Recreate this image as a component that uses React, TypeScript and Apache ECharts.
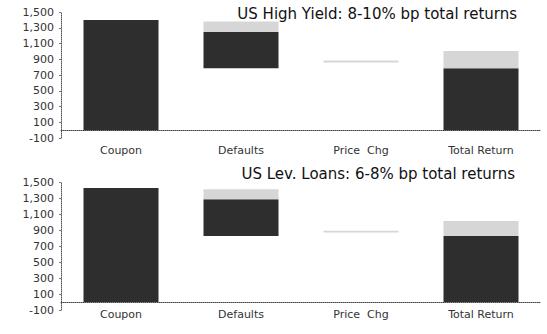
import React, { useEffect, useRef } from "react";
import * as echarts from "echarts";

const categories = ["Coupon", "Defaults", "Price  Chg", "Total Return"];

// US High Yield: start of bar, end of dark part, end of light (range) part
const hyStart = [0, 785, 860, 0];
const hyDarkEnd = [1400, 1245, 860, 785];
const hyLightEnd = [1400, 1380, 885, 1005];

// US Lev. Loans
const lvStart = [0, 825, 868, 0];
const lvDarkEnd = [1425, 1284, 868, 825];
const lvLightEnd = [1425, 1408, 890, 1012];

const titles = ["US High Yield: 8-10% bp total returns", "US Lev. Loans: 6-8% bp total returns"];

const FONT = "DejaVu Sans";

function diff(a: number[], b: number[]) {
  return a.map((v, i) => v - b[i]);
}

export default function App() {
  const ref = useRef<HTMLDivElement>(null);
  useEffect(() => {
    document.body.style.margin = "0";
    const chart = echarts.init(ref.current!, undefined, { renderer: "svg" });
    const grids = [
      { left: 61, right: 6, top: 12, height: 126 },
      { left: 61, right: 6, top: 182, height: 128 },
    ];
    const sets = [
      [hyStart, hyDarkEnd, hyLightEnd],
      [lvStart, lvDarkEnd, lvLightEnd],
    ];
    const labelMargins = [7, -1];
    const series: any[] = [];
    sets.forEach(([s, d, l], gi) => {
      const stack = "w" + gi;
      series.push({
        type: "bar", xAxisIndex: gi, yAxisIndex: gi, stack, barWidth: 75,
        data: s, itemStyle: { color: "transparent" }, silent: true,
      });
      series.push({
        type: "bar", xAxisIndex: gi, yAxisIndex: gi, stack, barWidth: 75,
        data: diff(d, s), itemStyle: { color: "#2e2e2e" },
      });
      series.push({
        type: "bar", xAxisIndex: gi, yAxisIndex: gi, stack, barWidth: 75,
        data: diff(l, d), itemStyle: { color: "#d6d6d6" },
      });
    });
    chart.setOption({
      animation: false,
      title: titles.map((t, i) => ({
        text: t,
        right: i === 0 ? 30 : 32,
        top: i === 0 ? 6 : 166,
        padding: 0,
        textStyle: { fontFamily: FONT, fontSize: 15, fontWeight: "normal", color: "#111" },
      })),
      grid: grids,
      xAxis: grids.map((_, i) => ({
        type: "category",
        gridIndex: i,
        data: categories,
        axisLine: { onZero: true, lineStyle: { type: "dotted", color: "#444", width: 1 } },
        axisTick: { show: false },
        axisLabel: { fontFamily: FONT, fontSize: 11, color: "#333", margin: labelMargins[i], interval: 0 },
      })),
      yAxis: grids.map((_, i) => ({
        type: "value",
        gridIndex: i,
        min: -100,
        max: 1500,
        interval: 200,
        splitLine: { show: false },
        axisLine: { show: true, lineStyle: { type: "dotted", color: "#555", width: 1 } },
        axisTick: { show: true, length: 2, lineStyle: { color: "#777" } },
        axisLabel: {
          fontFamily: FONT, fontSize: 11, color: "#333", margin: 7,
          formatter: (v: number) => v.toLocaleString("en-US"),
        },
      })),
      series,
    });
    return () => chart.dispose();
  }, []);
  return <div ref={ref} style={{ position: "absolute", left: 0, top: 0, width: 547, height: 334, background: "#fff" }} />;
}
